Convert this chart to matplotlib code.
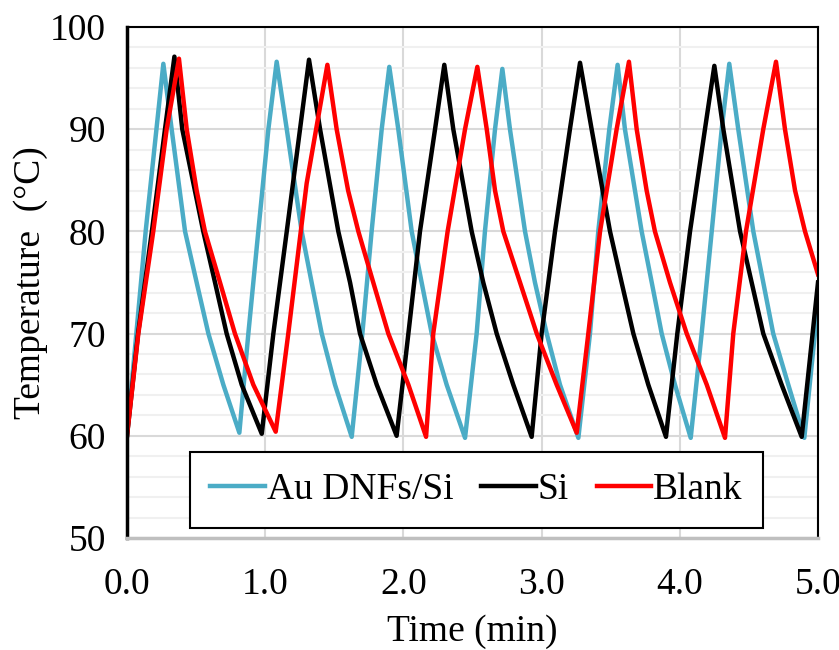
import matplotlib
matplotlib.use("Agg")
import matplotlib.pyplot as plt
from matplotlib.ticker import MultipleLocator, FormatStrFormatter

plt.rcParams['font.family'] = ['Liberation Serif', 'DejaVu Serif']

# Au DNFs/Si
au_t = [0.0, 0.135, 0.263,
        0.323, 0.42, 0.504, 0.589, 0.697, 0.813,
        0.878, 0.95, 1.023, 1.083,
        1.156, 1.264, 1.336, 1.409, 1.505, 1.626,
        1.703, 1.77, 1.843, 1.898,
        1.963, 2.06, 2.132, 2.205, 2.313, 2.446,
        2.53, 2.59, 2.663, 2.716,
        2.771, 2.88, 2.952, 3.037, 3.133, 3.266,
        3.35, 3.41, 3.49, 3.55,
        3.603, 3.724, 3.797, 3.869, 3.965, 4.079,
        4.158, 4.231, 4.303, 4.358,
        4.423, 4.532, 4.604, 4.676, 4.785, 4.901,
        5.0]
au_temp = [60.0, 80, 96.4,
           90, 80, 75, 70, 65, 60.3,
           70, 80, 90, 96.6,
           90, 80, 75, 70, 65, 59.9,
           70, 80, 90, 96.1,
           90, 80, 75, 70, 65, 59.8,
           70, 80, 90, 95.9,
           90, 80, 75, 70, 65, 59.8,
           70, 80, 90, 96.3,
           90, 80, 75, 70, 65, 59.8,
           70, 80, 90, 96.4,
           90, 80, 75, 70, 65, 59.8,
           73]

# Si
si_t = [0.0, 0.08, 0.18, 0.275, 0.343,
        0.40, 0.552, 0.637, 0.721, 0.83, 0.975,
        1.059, 1.156, 1.252, 1.317,
        1.397, 1.529, 1.614, 1.686, 1.807, 1.951,
        2.036, 2.12, 2.229, 2.296,
        2.361, 2.494, 2.578, 2.675, 2.795, 2.928,
        3.0, 3.097, 3.205, 3.278,
        3.362, 3.495, 3.579, 3.664, 3.772, 3.90,
        3.982, 4.074, 4.182, 4.25,
        4.315, 4.436, 4.52, 4.604, 4.737, 4.882,
        5.0]
si_temp = [60.0, 70, 80, 90, 97.1,
           90, 80, 75, 70, 65, 60.2,
           70, 80, 90, 96.8,
           90, 80, 75, 70, 65, 60.0,
           70, 80, 90, 96.3,
           90, 80, 75, 70, 65, 59.9,
           70, 80, 90, 96.5,
           90, 80, 75, 70, 65, 59.9,
           70, 80, 90, 96.2,
           90, 80, 75, 70, 65, 59.9,
           75]

# Blank
blank_t = [0.0, 0.082, 0.19, 0.287, 0.376,
           0.432, 0.504, 0.564, 0.673, 0.781, 0.914, 1.076,
           1.167, 1.30, 1.45,
           1.517, 1.60, 1.674, 1.782, 1.891, 2.036, 2.164,
           2.216, 2.32, 2.446, 2.535,
           2.603, 2.663, 2.723, 2.844, 2.965, 3.109, 3.254,
           3.338, 3.423, 3.543, 3.632,
           3.688, 3.76, 3.82, 3.929, 4.05, 4.195, 4.327,
           4.387, 4.479, 4.604, 4.696,
           4.761, 4.834, 4.906, 5.0]
blank_temp = [60.0, 70, 80, 90, 96.9,
              90, 84, 80, 75, 70, 65, 60.4,
              70, 84.7, 96.3,
              90, 84, 80, 75, 70, 65, 59.9,
              70, 80, 90, 96.1,
              90, 84, 80, 75, 70, 65, 60.3,
              70, 80, 90, 96.6,
              90, 84, 80, 75, 70, 65, 59.8,
              70, 80, 90, 96.6,
              90, 84, 80, 75.8]

fs = 27

fig = plt.figure(figsize=(8.39, 6.5), dpi=100)
ax = fig.add_axes([127/839, 1-538/650, 691/839, 511/650])

ax.plot(au_t, au_temp, color='#4BACC6', lw=3.2, label='Au DNFs/Si', solid_joinstyle='round')
ax.plot(si_t, si_temp, color='black', lw=3.2, label='Si', solid_joinstyle='round')
ax.plot(blank_t, blank_temp, color='#FF0000', lw=3.2, label='Blank', solid_joinstyle='round')

ax.set_xlim(0, 5)
ax.set_ylim(50, 100)
ax.xaxis.set_major_locator(MultipleLocator(1))
ax.xaxis.set_major_formatter(FormatStrFormatter('%.1f'))
ax.yaxis.set_major_locator(MultipleLocator(10))
ax.yaxis.set_minor_locator(MultipleLocator(2))
ax.grid(which='major', color='#d9d9d9', lw=1.5)
ax.grid(which='minor', axis='y', color='#f0f0f0', lw=1.5)
ax.set_axisbelow(True)
ax.tick_params(which='both', length=0, labelsize=fs)
ax.tick_params(axis='x', pad=21)
ax.tick_params(axis='y', pad=15)

for s in ['top', 'right']:
    ax.spines[s].set_linewidth(1.5)
    ax.spines[s].set_color('black')
ax.spines['left'].set_linewidth(2.5)
ax.spines['left'].set_color('black')
ax.spines['bottom'].set_linewidth(2.5)
ax.spines['bottom'].set_color('#bfbfbf')

ax.set_xlabel('Time (min)', fontsize=fs)
ax.xaxis.label.set_va('center')
ax.xaxis.set_label_coords(0.5, -0.184)
ax.set_ylabel('Temperature  (°C)', fontsize=fs)
ax.yaxis.label.set_va('center')
ax.yaxis.set_label_coords(-0.14, 0.5)

leg = ax.legend(loc='lower center', bbox_to_anchor=(0.506, 0.0196), ncol=3,
                fontsize=fs, frameon=True, fancybox=False, borderaxespad=0,
                handlelength=1.45, handletextpad=0.05, columnspacing=0.75,
                borderpad=0.55)
leg.get_frame().set_edgecolor('black')
leg.get_frame().set_linewidth(1.5)
leg.get_frame().set_alpha(1)

fig.savefig('out.png', dpi=100)
